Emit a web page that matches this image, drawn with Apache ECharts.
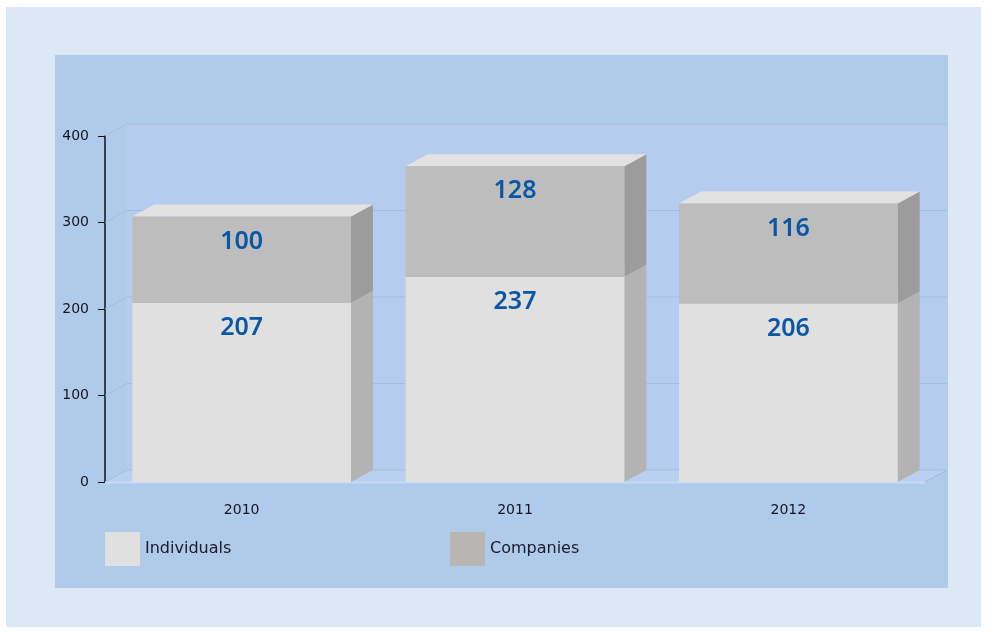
<!DOCTYPE html>
<html>
<head>
<meta charset="utf-8">
<script src="https://cdn.jsdelivr.net/npm/echarts@6/dist/echarts.min.js"></script>
<style>
  html, body { margin: 0; padding: 0; background: #ffffff; }
  #main { width: 987px; height: 633px; }
</style>
</head>
<body>
<div id="main"></div>
<script>
var years = ['2010', '2011', '2012'];
var individuals = [207, 237, 206];
var companies = [100, 128, 116];

// depth of the fake 3d
var DX = 22, DY = 12;

// [category, bottom, top, value]
var indData = [], compData = [];
for (var i = 0; i < years.length; i++) {
	indData.push([i, 0, individuals[i], individuals[i]]);
	compData.push([i, individuals[i], individuals[i] + companies[i], companies[i]]);
}

function box(front, side, top) {
	return function (params, api) {
		var lo = api.coord([api.value(0), api.value(1)]);
		var hi = api.coord([api.value(0), api.value(2)]);
		var w = api.size([1, 0])[0] * 0.8;
		var x0 = lo[0] - w / 2, x1 = lo[0] + w / 2;
		var y0 = lo[1], y1 = hi[1];
		return {
			type: 'group',
			children: [
				{ type: 'polygon', shape: { points: [[x1, y1], [x1 + DX, y1 - DY], [x1 + DX, y0 - DY], [x1, y0]] }, style: { fill: side } },
				{ type: 'polygon', shape: { points: [[x0, y1], [x0 + DX, y1 - DY], [x1 + DX, y1 - DY], [x1, y1]] }, style: { fill: top } },
				{ type: 'rect', shape: { x: x0, y: y1, width: w, height: y0 - y1 }, style: { fill: front } },
				{ type: 'text', x: lo[0], y: y1 + 25, style: {
					text: String(api.value(3)), fill: '#0b57a3', align: 'center', verticalAlign: 'middle',
					font: '600 25px "Noto Sans", sans-serif'
				} }
			]
		};
	};
}

// back wall, floor and grid lines of the box
function wall(params, api) {
	var cs = params.coordSys;
	var xl = cs.x, xr = cs.x + cs.width, yb = cs.y + cs.height;
	var kids = [
		{ type: 'rect', shape: { x: xl + DX, y: cs.y - DY, width: cs.width, height: cs.height }, style: { fill: '#b6ccee' } },
		{ type: 'polygon', shape: { points: [[xl, yb], [xr, yb], [xr + DX, yb - DY], [xl + DX, yb - DY]] }, style: { fill: '#b9d0f0' } },
		{ type: 'line', shape: { x1: xl, y1: yb + 0.5, x2: xr, y2: yb + 0.5 }, style: { stroke: '#c6daf4', lineWidth: 2 } },
		{ type: 'line', shape: { x1: xr, y1: yb, x2: xr + DX, y2: yb - DY }, style: { stroke: '#9fbadf', lineWidth: 1 } }
	];
	[0, 100, 200, 300, 400].forEach(function (v) {
		var y = api.coord([0, v])[1];
		kids.push({ type: 'line', shape: { x1: xl + DX, y1: y - DY, x2: xr + DX, y2: y - DY }, style: { stroke: '#a2bde2', lineWidth: 1 } });
		kids.push({ type: 'line', shape: { x1: xl, y1: y, x2: xl + DX, y2: y - DY }, style: { stroke: '#a2bde2', lineWidth: 1 } });
	});
	return { type: 'group', children: kids };
}

var legendText = { color: '#1a1a2e', fontSize: 16, fontFamily: 'DejaVu Sans' };

var option = {
	animation: false,
	graphic: [
		{ type: 'rect', z: -10, shape: { x: 6, y: 7, width: 975, height: 620 }, style: { fill: '#dce8f6' } },
		{ type: 'rect', z: -9, shape: { x: 55, y: 55, width: 893, height: 533 }, style: { fill: '#b0cbea' } }
	],
	grid: { left: 105, right: 62, top: 136, bottom: 151 },
	legend: [
		{ left: 105, top: 532, padding: 0, itemWidth: 35, itemHeight: 34, itemTextGap: 6, icon: 'rect', textStyle: legendText, data: ['Individuals'] },
		{ left: 450, top: 532, padding: 0, itemWidth: 35, itemHeight: 34, itemTextGap: 6, icon: 'rect', textStyle: legendText, data: ['Companies'] }
	],
	xAxis: {
		type: 'category',
		data: years,
		axisLine: { show: false },
		axisTick: { show: false },
		axisLabel: { margin: 21, color: '#151525', fontSize: 14, fontFamily: 'DejaVu Sans' }
	},
	yAxis: {
		type: 'value',
		min: 0, max: 400, interval: 100,
		axisLine: { show: true, lineStyle: { color: '#111111', width: 1.5 } },
		axisTick: { show: true, length: 7, lineStyle: { color: '#111111' } },
		axisLabel: { margin: 16, color: '#151525', fontSize: 14, fontFamily: 'DejaVu Sans' },
		splitLine: { show: false }
	},
	series: [
		{ type: 'custom', silent: true, z: 1, renderItem: wall, data: [[0, 0]], encode: { x: 0, y: 1 } },
		{
			name: 'Individuals', type: 'custom', z: 2, itemStyle: { color: '#e0e0e0' },
			renderItem: box('#e0e0e0', '#b3b3b3', '#e3e3e3'),
			data: indData, encode: { x: 0, y: [1, 2] }
		},
		{
			name: 'Companies', type: 'custom', z: 3, itemStyle: { color: '#b8b5b2' },
			renderItem: box('#bdbdbd', '#9c9c9c', '#e2e2e2'),
			data: compData, encode: { x: 0, y: [1, 2] }
		}
	]
};

var myChart = echarts.init(document.getElementById('main'));
myChart.setOption(option);
</script>
</body>
</html>
